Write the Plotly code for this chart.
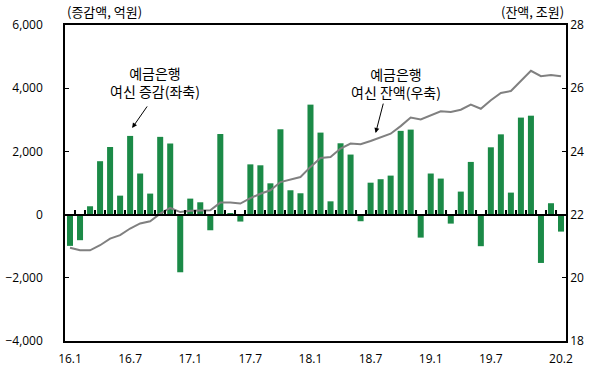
import plotly.graph_objects as go

months = []
for y in range(16, 21):
    for m in range(1, 13):
        months.append(f"{y}.{m}")
months = months[:50]  # 16.1 .. 20.2

change_100m = [-990, -810, 264, 1690, 2140, 600, 2490, 1300, 665, 2460, 2250, -1825,
               506, 390, -496, 2550, 30, -220, 1590, 1560, 990, 2700, 770, 675,
               3480, 2595, 420, 2257, 1900, -210, 1010, 1120, 1234, 2650, 2690, -728,
               1300, 1140, -285, 728, 1667, -1000, 2130, 2540, 696, 3070, 3130, -1530,
               360, -538]

balance_tn = [20.95, 20.87, 20.87, 21.03, 21.24, 21.35, 21.56, 21.72, 21.79, 22.03, 22.21, 22.08,
              22.12, 22.12, 22.14, 22.38, 22.38, 22.35, 22.52, 22.66, 22.77, 23.03, 23.11, 23.19,
              23.51, 23.79, 23.82, 24.09, 24.25, 24.23, 24.33, 24.44, 24.56, 24.80, 25.07, 25.01,
              25.14, 25.27, 25.25, 25.32, 25.48, 25.35, 25.62, 25.85, 25.91, 26.23, 26.55, 26.38,
              26.42, 26.38]

tick_labels = ["16.1", "16.7", "17.1", "17.7", "18.1", "18.7", "19.1", "19.7", "20.2"]

idx = list(range(len(months)))
tick_idx = [months.index(t) for t in tick_labels]

FONT = "Noto Sans CJK KR"
NUMFONT = "Open Sans"

fig = go.Figure()
fig.add_trace(go.Bar(x=idx, y=change_100m, marker=dict(color="#1b8a47", line=dict(width=0)),
                     width=0.6, yaxis="y", xaxis="x", showlegend=False))
fig.add_trace(go.Scatter(x=idx, y=balance_tn, mode="lines", line=dict(color="#808080", width=2),
                         yaxis="y2", xaxis="x", showlegend=False))
# invisible trace for zero-line axis
fig.add_trace(go.Scatter(x=[idx[0]], y=[0], mode="markers", marker=dict(opacity=0),
                         xaxis="x2", yaxis="y", showlegend=False, hoverinfo="skip"))

xr = [-0.5, len(months) - 0.5]
fig.update_layout(
    width=602, height=378,
    margin=dict(l=65, r=36, t=25, b=37),
    paper_bgcolor="white", plot_bgcolor="white",
    font=dict(family=FONT, size=12, color="black"),
    xaxis=dict(range=xr, tickmode="array", tickvals=tick_idx, ticktext=tick_labels,
               showgrid=False, zeroline=False, showline=True, linecolor="black", linewidth=1.5,
               mirror=True, ticks="", tickfont=dict(family=NUMFONT, size=12),
               ticklabelstandoff=6, automargin=False),
    xaxis2=dict(range=xr, overlaying="x", anchor="free", position=0.4, side="bottom",
                showline=True, linecolor="black", linewidth=1.5, showgrid=False, zeroline=False,
                showticklabels=False, ticks="inside", ticklen=4, tickcolor="black", tickwidth=1.5,
                tickmode="array", tickvals=[i + 0.5 for i in idx[:-1]], automargin=False),
    yaxis=dict(range=[-4000, 6000], dtick=2000, tickformat=",", showgrid=False, zeroline=False,
               showline=True, linecolor="black", linewidth=1.5, ticks="inside", ticklen=4,
               tickcolor="black", tickfont=dict(family=NUMFONT, size=12), ticklabelstandoff=18,
               automargin=False),
    yaxis2=dict(range=[18, 28], dtick=2, overlaying="y", side="right", showgrid=False,
                zeroline=False, showline=True, linecolor="black", linewidth=1.5, ticks="inside",
                ticklen=4, tickcolor="black", tickfont=dict(family=NUMFONT, size=12),
                automargin=False),
    bargap=0.4,
)

fig.add_annotation(xref="paper", yref="paper", x=0, y=1, yshift=2, xanchor="left", yanchor="bottom",
                   text="(증감액, 억원)", showarrow=False, font=dict(size=13, family=FONT))
fig.add_annotation(xref="paper", yref="paper", x=1, y=1, yshift=2, xanchor="right", yanchor="bottom",
                   text="(잔액, 조원)", showarrow=False, font=dict(size=13, family=FONT))

fig.add_annotation(xref="x", yref="y", x=6.2, y=2740, axref="x", ayref="y", ax=7.8, ay=3470,
                   text="", showarrow=True, arrowhead=2, arrowsize=1, arrowwidth=1, arrowcolor="black")
fig.add_annotation(x=8.5, y=4200, xref="x", yref="y", text="예금은행<br>여신 증감(좌축)",
                   showarrow=False, font=dict(size=14, family=FONT), align="center")
fig.add_annotation(xref="x", yref="y2", x=30.5, y=24.58, axref="x", ayref="y2", ax=31.3, ay=25.56,
                   text="", showarrow=True, arrowhead=2, arrowsize=1, arrowwidth=1, arrowcolor="black")
fig.add_annotation(x=32.5, y=26.15, xref="x", yref="y2", text="예금은행<br>여신 잔액(우축)",
                   showarrow=False, font=dict(size=14, family=FONT), align="center")

fig.write_html("out.html", config={"displayModeBar": False},
               post_script="document.body.style.margin='0';")
